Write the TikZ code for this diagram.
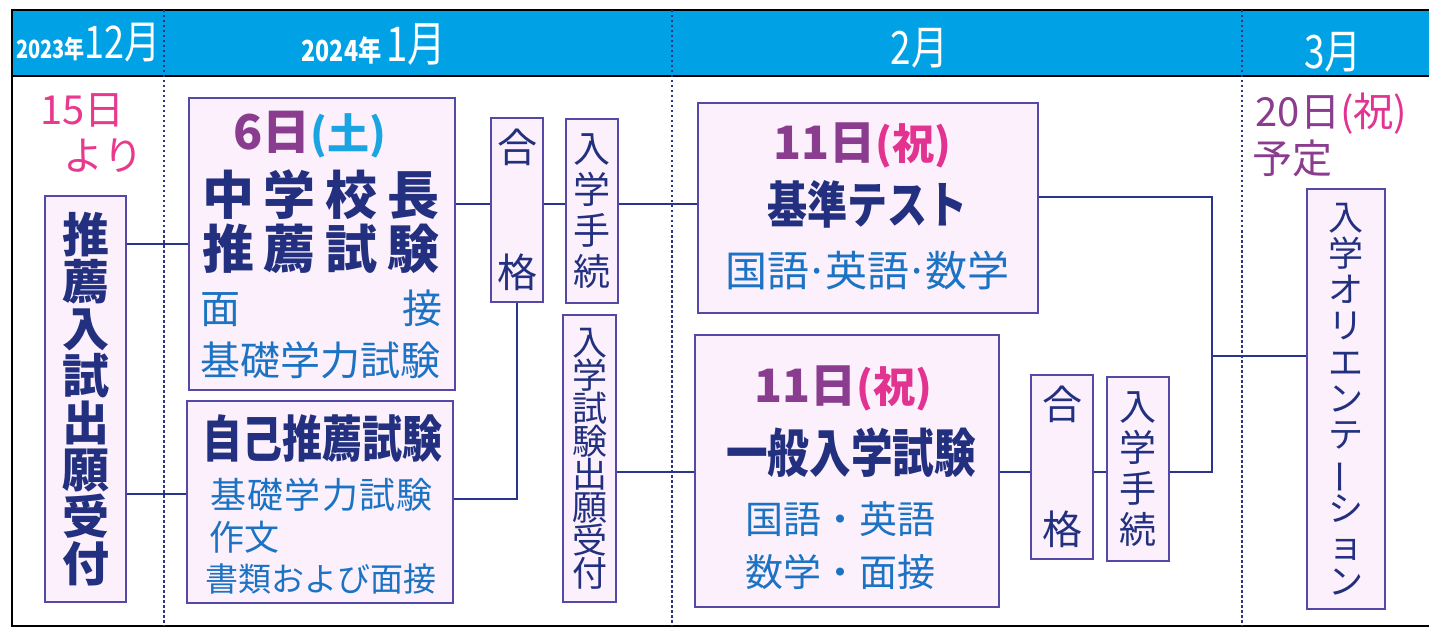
\documentclass[tikz,border=0pt]{standalone}
\usepackage{fontspec}
\newfontfamily\jp{Noto Sans CJK JP}
\newfontfamily\jpc[FakeStretch=0.8]{Noto Sans CJK JP}
\usetikzlibrary{positioning}
\definecolor{headc}{HTML}{00A2E5}
\definecolor{boxfill}{HTML}{FBF0FB}
\definecolor{boxline}{HTML}{5449A6}
\definecolor{linkc}{HTML}{2B3590}
\definecolor{dotc}{HTML}{2B3584}
\definecolor{navy}{HTML}{22307F}
\definecolor{subblue}{HTML}{1C73C3}
\definecolor{pinkc}{HTML}{E9398D}
\definecolor{plum}{HTML}{8A3C8F}
\definecolor{holc}{HTML}{E23391}
\definecolor{satc}{HTML}{1AA4E2}
\newcommand\fsz[1]{\fontsize{#1}{#1}\selectfont}
\newcommand\mdot{\kern-4pt·\kern-4pt}

\begin{document}
\begin{tikzpicture}[x=1pt,y=-1pt,
box/.style={draw=boxline,fill=boxfill,line width=2pt,inner sep=0pt},
link/.style={draw=linkc,line width=2pt},
monthline/.style={draw=dotc,line width=2pt,dash pattern=on 2.5pt off 2.5pt},
vtext/.style={text=navy,align=center},
lbl/.style={inner sep=0pt}]

\useasboundingbox[fill=white] (0,0) rectangle (1429,631);
% header band and frame
\fill[headc] (12,10) rectangle (1429,76);
\draw[line width=1.5pt] (12,76) -- (1429,76);
\draw[line width=2.5pt] (1429,10) -- (12,10) -- (12,626) -- (1429,626);
\foreach\X in {164,672,1242}
{\draw[monthline](\X,10)--(\X,626);}

\node[lbl,text=white] (dec) at (88.5,43) {\jpc\bfseries\fsz{25}2023年\mdseries\fsz{45}12月};
\node[lbl,text=white] (jan) at (374,45) {\jpc\bfseries\fsz{29}2024年\ \mdseries\fsz{48}1月};
\node[lbl,text=white] (feb) at (919.5,48) {\jpc\fsz{46}2月};
\node[lbl,text=white] (mar) at (1333,52) {\jpc\fsz{46}3月};

% dates
\node[lbl,text=pinkc,font=\jp\fsz{40}] (from) at (82.5,110) {15日};
\node[lbl,text=pinkc,font=\jp\fsz{40}] (yori) at (103.5,156) {より};
\node[lbl,font=\jp\fsz{40}] (orid) at (1331.5,114) {\textcolor{plum}{20日}\textcolor{holc}{(祝)}};
\node[lbl,text=plum,font=\jp\fsz{40}] (yotei) at (1292.5,158) {予定};

% boxes
\node[box,vtext,minimum width=81pt,minimum height=406pt,font=\jp\bfseries\fontsize{47}{47}\selectfont]
 (ent) at (85.5,399) {推\\薦\\入\\試\\出\\願\\受\\付};
\node[box,minimum width=266pt,minimum height=292pt] (chu) at (322,244) {};
\node[box,minimum width=266pt,minimum height=202pt] (jiko) at (320,502) {};
\node[box,vtext,minimum width=52pt,minimum height=184pt,font=\jp\fsz{40}]
 (gokaku) at (517,210) {合\\[85pt]格};
\node[box,vtext,minimum width=52pt,minimum height=184pt,font=\jp\fontsize{37}{41}\selectfont]
 (tetsu) at (592,211) {入\\学\\手\\続};
\node[box,vtext,minimum width=53pt,minimum height=287pt,font=\jp\fontsize{35}{33}\selectfont]
 (shutsu) at (589.5,458.5) {入\\学\\試\\験\\出\\願\\受\\付};
\node[box,minimum width=340pt,minimum height=210pt] (kijun) at (868,208) {};
\node[box,minimum width=304pt,minimum height=272pt] (ippan) at (847,471) {};
\node[box,vtext,minimum width=62pt,minimum height=184pt,font=\jp\fsz{40}]
 (gokakub) at (1062,467) {合\\[85pt]格};
\node[box,vtext,minimum width=62pt,minimum height=184pt,font=\jp\fontsize{37}{41}\selectfont]
 (tetsub) at (1138,469) {入\\学\\手\\続};
\node[box,vtext,minimum width=78pt,minimum height=420pt,font=\jp\fontsize{35}{36.3}\selectfont]
 (ori) at (1346,399) {入\\学\\オ\\リ\\エ\\ン\\テ\\\rotatebox[origin=c]{90}{ー}\\シ\\ョ\\ン};

% texts in the exam boxes
\node[lbl,font=\jp\bfseries] (chudate) at (309.5,135) {\textcolor{plum}{\fsz{48}6日}\textcolor{satc}{\fsz{42}(土)}};
\node[lbl,text=navy,font=\jp\bfseries\fsz{52}] (chua) at (321,195) {\makebox[238pt]{中\hfill 学\hfill 校\hfill 長}};
\node[lbl,text=navy,font=\jp\bfseries\fsz{52}] (chub) at (321,249) {\makebox[238pt]{推\hfill 薦\hfill 試\hfill 験}};
\node[lbl,text=subblue,font=\jp\fsz{40}] (chuc) at (321,308) {\makebox[242pt]{面\hfill 接}};
\node[lbl,text=subblue,font=\jp\fsz{40}] (chud) at (320,360) {基礎学力試験};

\node[lbl,text=navy,font=\jpc\bfseries\fsz{50}] (jikoa) at (322,439) {自己推薦試験};
\node[lbl,text=subblue,font=\jp\fsz{36}] (jikob) at (321.5,494.5) {\makebox[223pt]{基\hfill 礎\hfill 学\hfill 力\hfill 試\hfill 験}};
\node[lbl,text=subblue,font=\jp\fsz{35},anchor=west] (jikoc) at (210,537.5) {\makebox[68pt]{作\hfill 文}};
\node[lbl,text=subblue,font=\jp\fsz{33}] (jikod) at (321,579) {書類および面接};

\node[lbl,font=\jp\bfseries] (kijundate) at (862,145) {\textcolor{plum}{\fsz{46}11日}\textcolor{holc}{\fsz{42}(祝)}};
\node[lbl,text=navy,font=\jpc\bfseries\fsz{50}] (kijuna) at (867.5,204) {基準テスト};
\node[lbl,text=subblue,font=\jp\fsz{42}] (kijunb) at (867.5,270) {国語\mdot 英語\mdot 数学};

\node[lbl,font=\jp\bfseries] (ippandate) at (843.5,388.5) {\textcolor{plum}{\fsz{46}11日}\textcolor{holc}{\fsz{42}(祝)}};
\node[lbl,text=navy,font=\jpc\bfseries\fsz{52}] (ippana) at (851,452.5) {一般入学試験};
\node[lbl,text=subblue,font=\jp\fsz{38}] (ippanb) at (840.5,519.5) {国語・英語};
\node[lbl,text=subblue,font=\jp\fsz{38}] (ippanc) at (840.5,572.5) {数学・面接};

% connectors
\coordinate (ra) at (0,204);
\coordinate (rb) at (0,472);
\coordinate (jn) at (1212,356);
\draw[link] (chu.west) -- (chu.west -| ent.east);
\draw[link] ([yshift=8pt]jiko.west) -- ([yshift=8pt]jiko.west -| ent.east);
\draw[link] (chu.east |- ra) -- (gokaku.west |- ra);
\draw[link] (gokaku.east |- ra) -- (tetsu.west |- ra);
\draw[link] (tetsu.east |- ra) -- (kijun.west |- ra);
\draw[link] (gokaku.south) |- ([yshift=3pt]jiko.east);
\draw[link] (shutsu.east |- rb) -- (ippan.west |- rb);
\draw[link] (ippan.east |- rb) -- (gokakub.west |- rb);
\draw[link] (gokakub.east |- rb) -- (tetsub.west |- rb);
\draw[link] ([yshift=11pt]kijun.east) -| (jn) |- (tetsub.east |- rb);
\draw[link] (jn) -- (jn -| ori.west);
\end{tikzpicture}
\end{document}
